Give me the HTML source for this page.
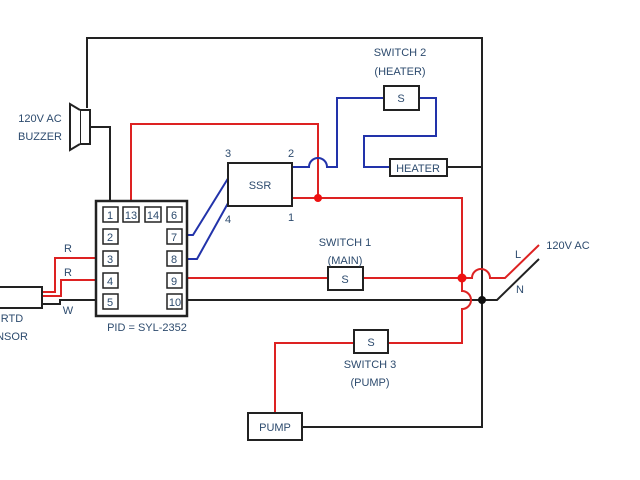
<!DOCTYPE html>
<html><head><style>body{margin:0;background:#fff}svg{display:block}text{font-family:"Liberation Sans",sans-serif;fill:#2d4b6e;font-size:11px}</style></head><body>
<svg width="640" height="480" xmlns="http://www.w3.org/2000/svg" fill="none" stroke-width="2">
<rect width="640" height="480" fill="#fff"/>
<!-- black wiring -->
<g stroke="#222">
<path d="M87 108 V38 H482 V427 H302"/>
<path d="M90 127 H110 V207"/>
<path d="M447 167 H482"/>
<path d="M183 300 H482 H497 L539 259"/>
<path d="M42 304 H60 V300 H103"/>
</g>
<circle cx="482" cy="300" r="4" fill="#111"/>
<!-- red wiring -->
<g stroke="#d22">
<path d="M131 207 V124 H318 V198"/>
<path d="M292 198 H462 V278"/>
<path d="M183 278 H328 M363 278 H472 A9 9 0 0 1 490 278 H505 L539 245"/>
<path d="M462 278 V291 A9 9 0 0 1 462 309 V343 H388 M354 343 H275 V413"/>
<path d="M42 292 H55 V258 H103"/>
<path d="M42 296 H61 V280 H103"/>
</g>
<circle cx="318" cy="198" r="4" fill="#e11"/>
<circle cx="462" cy="278" r="4.5" fill="#e11"/>
<!-- blue wiring -->
<g stroke="#2233aa">
<path d="M292 167 H309 A9 9 0 0 1 327 167 H337 V98 H384"/>
<path d="M419 98 H436 V136 H364 V167 H390"/>
<path d="M182 235 H193 L232 172"/>
<path d="M182 259 H197 L232 196"/>
</g>
<!-- boxes -->
<g stroke="#222" fill="#fff">
<rect x="384" y="86" width="35" height="24"/>
<rect x="390" y="159" width="57" height="17"/>
<rect x="228" y="163" width="64" height="43"/>
<rect x="328" y="267" width="35" height="23"/>
<rect x="354" y="330" width="34" height="23"/>
<rect x="248" y="413" width="54" height="27"/>
<rect x="96" y="201" width="91" height="115" stroke-width="2.5"/>
<rect x="-5" y="287" width="47" height="21"/>
<rect x="80" y="110" width="10" height="34"/>
<path d="M80 110 L70 104 V150 L80 144" />
</g>
<g stroke="#222" fill="#fff" stroke-width="1.5">
<rect x="103" y="207" width="15" height="15"/><rect x="123" y="207" width="16" height="15"/><rect x="145" y="207" width="16" height="15"/><rect x="167" y="207" width="15" height="15"/>
<rect x="103" y="229" width="15" height="15"/><rect x="167" y="229" width="15" height="15"/>
<rect x="103" y="251" width="15" height="15"/><rect x="167" y="251" width="15" height="15"/>
<rect x="103" y="273" width="15" height="15"/><rect x="167" y="273" width="15" height="15"/>
<rect x="103" y="294" width="15" height="15"/><rect x="167" y="294" width="15" height="15"/>
</g>
<g text-anchor="middle">
<text x="110" y="219">1</text><text x="131" y="219">13</text><text x="153" y="219">14</text><text x="174" y="219">6</text>
<text x="110" y="241">2</text><text x="174" y="241">7</text>
<text x="110" y="263">3</text><text x="174" y="263">8</text>
<text x="110" y="285">4</text><text x="174" y="285">9</text>
<text x="110" y="306">5</text><text x="175" y="306">10</text>
<text x="401" y="102">S</text><text x="418" y="172">HEATER</text><text x="260" y="189">SSR</text>
<text x="345" y="283">S</text><text x="371" y="346">S</text><text x="275" y="431">PUMP</text>
<text x="400" y="56">SWITCH 2</text><text x="400" y="75">(HEATER)</text>
<text x="345" y="246">SWITCH 1</text><text x="345" y="264">(MAIN)</text>
<text x="370" y="368">SWITCH 3</text><text x="370" y="386">(PUMP)</text>
<text x="147" y="331">PID = SYL-2352</text>
<text x="40" y="122">120V AC</text><text x="40" y="140">BUZZER</text>
<text x="228" y="157">3</text><text x="291" y="157">2</text><text x="228" y="223">4</text><text x="291" y="221">1</text>
<text x="68" y="252">R</text><text x="68" y="276">R</text><text x="68" y="314">W</text>
<text x="12" y="322">RTD</text><text x="12" y="340">NSOR</text>
<text x="568" y="249">120V AC</text><text x="518" y="258">L</text><text x="520" y="293">N</text>
</g>
</svg>
</body></html>
